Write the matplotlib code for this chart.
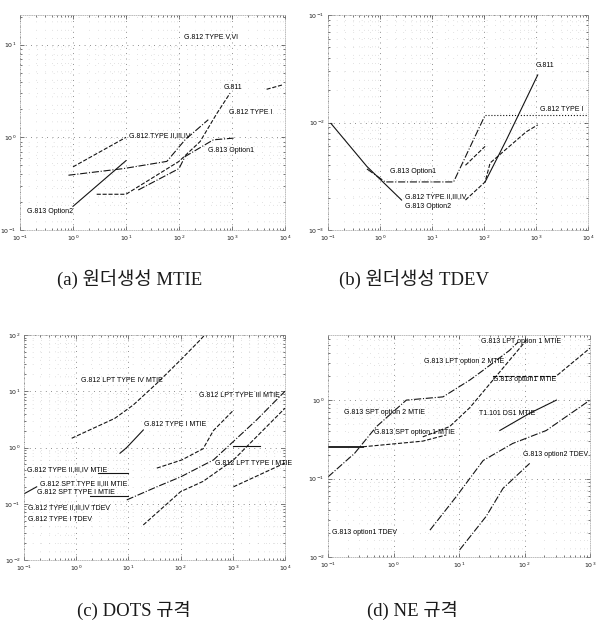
import matplotlib
matplotlib.use('Agg')
from matplotlib import pyplot as plt
from matplotlib.ticker import LogLocator, NullFormatter

# (a) wander generation MTIE [us] vs observation interval [s]
a_g811_t = [2.8, 10, 100, 250, 515, 920]
a_g811_v = [0.243, 0.243, 0.55, 0.9, 1.8, 3.0]
a_t1_t = [0.82, 9, 59, 130, 357]
a_t1_v = [0.39, 0.46, 0.55, 0.94, 1.55]
a_t234_t = [1.0, 10]
a_t234_v = [0.48, 1.0]
a_t56_t = [4500, 9300]
a_t56_v = [3.3, 3.7]
a_opt1_t = [17, 100, 130, 445, 1070]
a_opt1_v = [0.27, 0.46, 0.62, 0.94, 0.98]
a_opt2_t = [1.0, 10]
a_opt2_v = [0.18, 0.56]

# (b) wander generation TDEV [us]
b_g811_t = [105, 270, 1080]
b_g811_v = [0.0028, 0.0069, 0.0277]
b_t1_t = [105, 10000]
b_t1_v = [0.0117, 0.0117]
b_t234_t = [44, 105, 131, 650, 1080]
b_t234_v = [0.0019, 0.0028, 0.0042, 0.0082, 0.0095]
b_t234b_t = [44, 105]
b_t234b_v = [0.0040, 0.0060]
b_opt1_t = [0.56, 1.26, 26, 105]
b_opt1_v = [0.0037, 0.0028, 0.0028, 0.0117]
b_opt2_t = [0.114, 0.56, 2.6]
b_opt2_v = [0.0098, 0.0039, 0.0019]

# (c) DOTS limits
c_lpt4_t = [0.82, 5.5, 12.4, 35, 100, 235, 290]
c_lpt4_v = [1.46, 3.3, 5.7, 13.8, 36, 81, 100]
c_t1_t = [6.9, 9.3, 19.3]
c_t1_v = [0.79, 1.0, 2.05]
c_lpt3_t = [35, 105, 270, 425, 1030]
c_lpt3_v = [0.43, 0.6, 0.95, 2.0, 4.6]
c_spt23_t = [9.3, 35, 100, 425, 2870, 10000]
c_spt23_v = [0.117, 0.2, 0.3, 0.6, 3.1, 10]
c_tdev_t = [19.3, 100, 270, 1030, 10000]
c_tdev_v = [0.042, 0.164, 0.25, 0.6, 5.0]
c_lpt1_t = [1030, 10000]
c_lpt1_v = [0.2, 0.53]
c_flat_t = [1030, 3300]
c_flat_v = [1.07, 1.07]
c_t234_t = [2.6, 10]
c_t234_v = [0.35, 0.35]
c_spt1_t = [1.84, 10]
c_spt1_v = [0.14, 0.14]
c_edge_t = [0.1, 0.175]
c_edge_v = [0.15, 0.2]

# (d) NE limits
d_lpt1_t = [2.8, 7.2, 14.6, 33, 66, 107]
d_lpt1_v = [0.34, 0.46, 0.8, 1.8, 3.6, 5.8]
d_lpt2_t = [0.1, 0.255, 0.55, 1.57, 5.7, 14.6, 23.4, 59, 80]
d_lpt2_v = [0.105, 0.21, 0.46, 1.0, 1.1, 1.8, 2.4, 4.3, 5.5]
d_spt1_t = [0.1, 0.34]
d_spt1_v = [0.254, 0.254]
d_spt1b_t = [0.34, 2.8, 6.4]
d_spt1b_v = [0.254, 0.3, 0.36]
d_opt1_t = [33, 300, 1000]
d_opt1_v = [2.0, 2.0, 4.6]
d_ds1_t = [42, 120, 307]
d_ds1_v = [0.41, 0.68, 1.0]
d_tdev1_t = [3.6, 9.1, 23.4, 66, 215, 1000]
d_tdev1_v = [0.022, 0.059, 0.17, 0.28, 0.41, 1.0]
d_tdev2_t = [10.2, 26, 47, 120]
d_tdev2_v = [0.0123, 0.033, 0.075, 0.156]

W, H = 596, 621
LBL = ['Liberation Sans Narrow', 'Liberation Sans', 'DejaVu Sans']
CAP = ['Liberation Serif', 'Noto Sans CJK KR']


def box(l, t, r, b):
    return [l / W, 1 - b / H, (r - l) / W, (b - t) / H]


def frame(ax, xlim, ylim):
    ax.set_xscale('log')
    ax.set_yscale('log')
    ax.set_xlim(*xlim)
    ax.set_ylim(*ylim)
    for axis in (ax.xaxis, ax.yaxis):
        axis.set_major_locator(LogLocator(base=10, numticks=12))
        axis.set_minor_locator(LogLocator(base=10, subs=range(2, 10), numticks=12))
        axis.set_minor_formatter(NullFormatter())
    ax.tick_params(which='both', direction='in', top=True, right=True,
                   width=0.5, color='0.25', labelsize=4.5, labelcolor='0.1')
    ax.tick_params(which='major', length=3, pad=2.5)
    ax.tick_params(which='minor', length=1.5)
    ax.grid(True, which='major', ls=(0, (1, 6)), color='0.3', lw=0.55)
    ax.grid(True, which='minor', ls=(0, (1, 14)), color='0.65', lw=0.4)
    for s in ax.spines.values():
        s.set_linewidth(0.4)
        s.set_color('0.55')
        s.set_linestyle((0, (2, 2)))


def curve(ax, t, v, ls='-'):
    ax.plot(t, v, color='0.08', lw=0.8, linestyle=ls)


def label(ax, x, y, s):
    ax.text(x, y, s, transform=ax.transAxes, fontsize=5, family=LBL,
            ha='left', va='center', color='0.0')


fig = plt.figure(figsize=(W / 100, H / 100), dpi=100)

# (a)
ax = fig.add_axes(box(20, 15, 285, 230))
frame(ax, (0.1, 1e4), (0.1, 10 ** 1.32))
curve(ax, a_g811_t, a_g811_v, '--')
curve(ax, a_t1_t, a_t1_v, '-.')
curve(ax, a_t234_t, a_t234_v, '--')
curve(ax, a_t56_t, a_t56_v, '--')
curve(ax, a_opt1_t, a_opt1_v, '-.')
curve(ax, a_opt2_t, a_opt2_v, '-')
label(ax, 0.62, 0.90, 'G.812 TYPE V,VI')
label(ax, 0.77, 0.665, 'G.811')
label(ax, 0.79, 0.545, 'G.812 TYPE I')
label(ax, 0.41, 0.44, 'G.812 TYPE II,III,IV')
label(ax, 0.71, 0.37, 'G.813 Option1')
label(ax, 0.025, 0.085, 'G.813 Option2')

# (b)
ax = fig.add_axes(box(328, 15, 588, 230))
frame(ax, (0.1, 1e4), (1e-3, 1e-1))
curve(ax, b_g811_t, b_g811_v, '-')
curve(ax, b_t1_t, b_t1_v, ':')
curve(ax, b_t234_t, b_t234_v, '--')
curve(ax, b_t234b_t, b_t234b_v, '--')
curve(ax, b_opt1_t, b_opt1_v, '-.')
curve(ax, b_opt2_t, b_opt2_v, '-')
label(ax, 0.80, 0.767, 'G.811')
label(ax, 0.815, 0.56, 'G.812 TYPE I')
label(ax, 0.24, 0.27, 'G.813 Option1')
label(ax, 0.295, 0.155, 'G.812 TYPE II,III,IV')
label(ax, 0.295, 0.11, 'G.813 Option2')

# (c)
ax = fig.add_axes(box(24, 335, 285, 560))
frame(ax, (0.1, 1e4), (1e-2, 1e2))
curve(ax, c_lpt4_t, c_lpt4_v, '--')
curve(ax, c_t1_t, c_t1_v, '-')
curve(ax, c_lpt3_t, c_lpt3_v, '--')
curve(ax, c_spt23_t, c_spt23_v, '-.')
curve(ax, c_tdev_t, c_tdev_v, '--')
curve(ax, c_lpt1_t, c_lpt1_v, '--')
curve(ax, c_flat_t, c_flat_v, '-')
curve(ax, c_t234_t, c_t234_v, '-')
curve(ax, c_spt1_t, c_spt1_v, '-')
curve(ax, c_edge_t, c_edge_v, '-')
label(ax, 0.22, 0.80, 'G.812 LPT TYPE IV MTIE')
label(ax, 0.67, 0.733, 'G.812 LPT TYPE III MTIE')
label(ax, 0.46, 0.60, 'G.812 TYPE I MTIE')
label(ax, 0.73, 0.43, 'G.812 LPT TYPE I MTIE')
label(ax, 0.01, 0.40, 'G.812 TYPE II,III,IV MTIE')
label(ax, 0.06, 0.34, 'G.812 SPT TYPE II,III MTIE')
label(ax, 0.05, 0.30, 'G.812 SPT TYPE I MTIE')
label(ax, 0.015, 0.235, 'G.812 TYPE II,III,IV TDEV')
label(ax, 0.015, 0.178, 'G.812 TYPE I TDEV')

# (d)
ax = fig.add_axes(box(328, 335, 590, 557))
frame(ax, (0.1, 1e3), (1e-2, 10 ** 0.83))
curve(ax, d_lpt1_t, d_lpt1_v, '--')
curve(ax, d_lpt2_t, d_lpt2_v, '-.')
ax.plot(d_spt1_t, d_spt1_v, color='0.08', lw=1.3)
curve(ax, d_spt1b_t, d_spt1b_v, '--')
curve(ax, d_opt1_t, d_opt1_v, '--')
curve(ax, d_ds1_t, d_ds1_v, '-')
curve(ax, d_tdev1_t, d_tdev1_v, '-.')
curve(ax, d_tdev2_t, d_tdev2_v, '-.')
label(ax, 0.585, 0.97, 'G.813 LPT option 1 MTIE')
label(ax, 0.365, 0.88, 'G.813 LPT option 2 MTIE')
label(ax, 0.63, 0.80, 'G.813 option1 MTIE')
label(ax, 0.06, 0.65, 'G.813 SPT option 2 MTIE')
label(ax, 0.575, 0.645, 'T1.101 DS1 MTIE')
label(ax, 0.175, 0.56, 'G.813 SPT option 1 MTIE')
label(ax, 0.745, 0.46, 'G.813 option2 TDEV')
label(ax, 0.015, 0.11, 'G.813 option1 TDEV')

# captions under each panel
for x, y, s in [(130, 280, '(a) 원더생성 MTIE'), (414, 280, '(b) 원더생성 TDEV'),
                (134, 610, '(c) DOTS 규격'), (412, 610, '(d) NE 규격')]:
    fig.text(x / W, 1 - y / H, s, fontsize=13.5, family=CAP,
             ha='center', va='center', color='0.1')

fig.savefig('out.png', dpi=100)
